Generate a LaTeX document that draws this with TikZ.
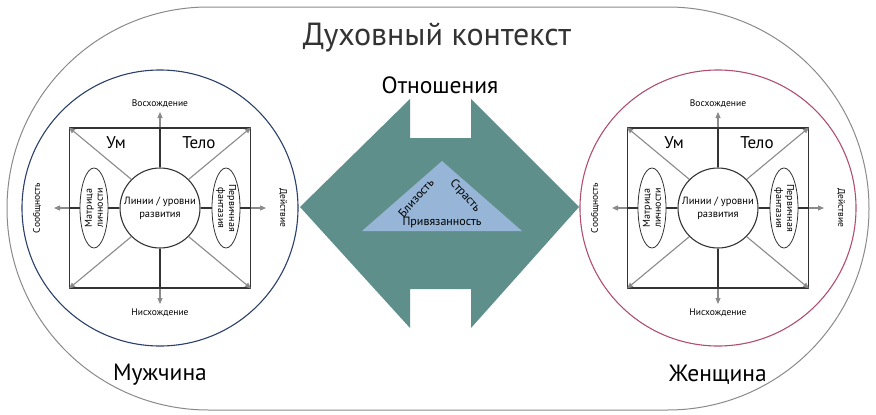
\documentclass[tikz,border=0pt]{standalone}
\usepackage{fontspec}
\setmainfont{PT Sans}
\usetikzlibrary{arrows.meta,shapes.geometric}
\definecolor{teal1}{HTML}{5F8F8A}
\definecolor{tri}{HTML}{97B5D6}
\definecolor{navy}{HTML}{2B3F6B}
\definecolor{rose}{HTML}{B0506E}
\definecolor{dk}{HTML}{333333}
\definecolor{gr}{HTML}{8A8A8A}
\tikzset{
  dline/.style={draw=dk,line width=1.1pt},
  garrow/.style={draw=gr,line width=1.1pt,-{Triangle[length=6pt,width=5pt]}},
  small/.style={font=\fontsize{9.5}{10.5}\selectfont,align=center,inner sep=0pt},
  mid/.style={font=\fontsize{17}{19}\selectfont,inner sep=0pt},
  big/.style={font=\fontsize{23.5}{26}\selectfont,inner sep=0pt},
  unit/.pic={
    \node[draw=dk,line width=1.1pt,minimum width=181pt,minimum height=160pt,inner sep=0pt] (-box) at (0,0) {};
    \node[draw=dk,line width=1.1pt,circle,minimum size=80pt,inner sep=0pt,align=center,font=\fontsize{10.5}{13}\selectfont] (-c) at (0,0) {Линии / уровни\\развития};
    \node[draw=dk,line width=0.8pt,ellipse,minimum width=28pt,minimum height=80pt,inner sep=0pt] (-el) at (-66,0) {};
    \node[draw=dk,line width=0.8pt,ellipse,minimum width=28pt,minimum height=80pt,inner sep=0pt] (-er) at (66,0) {};
    \node[small,font=\fontsize{10}{11}\selectfont,rotate=90] at (-el) {Матрица\\личности};
    \node[small,font=\fontsize{10}{11}\selectfont,rotate=-90] at (-er) {Первичная\\фантазия};
    \coordinate (-u) at (0,-96); \coordinate (-d) at (0,96);
    \coordinate (-l) at (-106,0); \coordinate (-r) at (106,0);
    \draw[dline] (-c.north) -- (-box.north);
    \draw[dline] (-c.south) -- (-box.south);
    \draw[dline] (-c.west) -- (-el.east);
    \draw[dline] (-el.west) -- (-box.west);
    \draw[dline] (-c.east) -- (-er.west);
    \draw[dline] (-er.east) -- (-box.east);
    \draw[garrow] (-box.north) -- (-u);
    \draw[garrow] (-box.south) -- (-d);
    \draw[garrow] (-box.west) -- (-l);
    \draw[garrow] (-box.east) -- (-r);
    \draw[garrow] (-c.north west) -- (-box.north west);
    \draw[garrow] (-c.north east) -- (-box.north east);
    \draw[garrow] (-c.south west) -- (-box.south west);
    \draw[garrow] (-c.south east) -- (-box.south east);
    \node[small] at (0,-104) {Восхождение};
    \node[small] at (0,105) {Нисхождение};
    \node[small,rotate=-90] at (123,0) {Действие};
    \node[small,rotate=90] at (-123,0) {Сообщность};
    \node[mid] at (-44,-65) {Ум};
    \node[mid] at (39,-65) {Тело};
  }
}
\begin{document}
\begin{tikzpicture}[x=1pt,y=-1pt]
\useasboundingbox (0,0) rectangle (876,415);
\draw[gr,line width=1pt,rounded corners=201.4pt] (7,7) rectangle (869,410);
\node[font=\fontsize{32}{36}\selectfont,inner sep=0pt,text=dk] (title) at (437,38) {Духовный контекст};
\node[draw=navy,line width=1.1pt,circle,minimum size=276pt] (lc) at (160,208) {};
\node[draw=rose,line width=1.1pt,circle,minimum size=276pt] (rc) at (718,208) {};
\pic (L) at (160,208) {unit};
\pic (R) at (718,208) {unit};
\node[big] (man) at (160,375) {Мужчина};
\node[big] (woman) at (718,375) {Женщина};
\fill[teal1] (300,207) -- (410,99) -- (410,138) -- (471,138) -- (471,99) -- (579,207) -- (471,328) -- (471,289) -- (410,289) -- (410,328) -- cycle;
\node[big] (rel) at (440,85) {Отношения};
\fill[tri] (442,161) -- (522,231) -- (362,231) -- cycle;
\node[inner sep=0pt,font=\fontsize{12}{13}\selectfont,rotate=48] (b) at (416,198) {Близость};
\node[inner sep=0pt,font=\fontsize{12}{13}\selectfont,rotate=-48] (s) at (465,196) {Страсть};
\node[inner sep=0pt,font=\fontsize{12}{13}\selectfont] (p) at (442,222) {Привязанность};
\end{tikzpicture}
\end{document}
